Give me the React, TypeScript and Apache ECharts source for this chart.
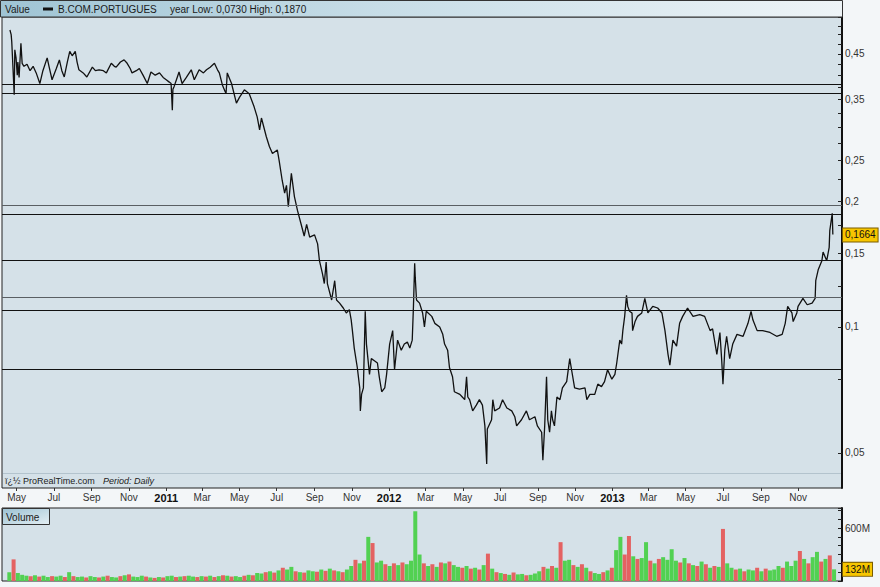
import React, { useEffect, useRef } from 'react';
import * as echarts from 'echarts';

// ---------- data ----------
const priceDates: string[] = [
  // Apr-May 2010
  '2010-04-20','2010-04-22','2010-04-23','2010-04-27','2010-04-28','2010-04-30','2010-05-02','2010-05-03','2010-05-05','2010-05-08','2010-05-10','2010-05-13','2010-05-18','2010-05-23','2010-05-28',
  // Jun-Jul 2010
  '2010-06-02','2010-06-08','2010-06-13','2010-06-20','2010-06-23','2010-06-28','2010-07-05','2010-07-10','2010-07-14','2010-07-18','2010-07-23','2010-07-27','2010-07-31',
  // Aug-Oct 2010
  '2010-08-05','2010-08-08','2010-08-11','2010-08-18','2010-08-24','2010-09-02','2010-09-07','2010-09-13','2010-09-20','2010-09-25','2010-10-03','2010-10-08','2010-10-11','2010-10-18','2010-10-24','2010-10-29',
  // Nov 2010-Jan 2011
  '2010-11-03','2010-11-06','2010-11-13','2010-11-18','2010-11-24','2010-12-01','2010-12-07','2010-12-14','2010-12-21','2010-12-27','2011-01-01','2011-01-06','2011-01-09','2011-01-11','2011-01-12','2011-01-14','2011-01-19','2011-01-22','2011-01-27',
  // Feb-Apr 2011
  '2011-02-03','2011-02-11','2011-02-16','2011-02-24','2011-03-03','2011-03-08','2011-03-14','2011-03-21','2011-03-26','2011-03-29','2011-04-03','2011-04-09','2011-04-11','2011-04-18','2011-04-26',
  // May-Jul 2011
  '2011-05-01','2011-05-09','2011-05-17','2011-05-25','2011-05-30','2011-06-03','2011-06-06','2011-06-14','2011-06-19','2011-06-24','2011-07-02','2011-07-05','2011-07-10','2011-07-14','2011-07-17','2011-07-20','2011-07-25','2011-07-30',
  // Aug-Oct 2011
  '2011-08-04','2011-08-10','2011-08-15','2011-08-19','2011-08-24','2011-09-01','2011-09-06','2011-09-09','2011-09-14','2011-09-17','2011-09-20','2011-09-22','2011-09-29','2011-10-04','2011-10-07','2011-10-12','2011-10-18','2011-10-23','2011-10-28','2011-10-31',
  // Nov-Dec 2011
  '2011-11-02','2011-11-05','2011-11-10','2011-11-14','2011-11-15','2011-11-17','2011-11-20','2011-11-23','2011-11-25','2011-11-30','2011-12-03','2011-12-08','2011-12-13','2011-12-16','2011-12-20','2011-12-25','2011-12-28',
  // Jan-Mar 2012
  '2012-01-02','2012-01-07','2012-01-10','2012-01-15','2012-01-21','2012-01-26','2012-01-31','2012-02-04','2012-02-08','2012-02-10','2012-02-12','2012-02-13','2012-02-15','2012-02-20','2012-02-25','2012-02-28','2012-03-02','2012-03-11','2012-03-16','2012-03-24','2012-03-29',
  // Apr-Jun 2012
  '2012-04-01','2012-04-06','2012-04-09','2012-04-14','2012-04-17','2012-04-26','2012-04-30','2012-05-04','2012-05-07','2012-05-09','2012-05-12','2012-05-17','2012-05-23','2012-05-28','2012-06-02','2012-06-06','2012-06-09','2012-06-10','2012-06-17','2012-06-19','2012-06-22','2012-06-30',
  // Jul-Sep 2012
  '2012-07-05','2012-07-12','2012-07-20','2012-07-25','2012-07-28','2012-08-05','2012-08-13','2012-08-18','2012-08-27','2012-08-31','2012-09-07','2012-09-09','2012-09-12','2012-09-15','2012-09-17','2012-09-20','2012-09-23','2012-09-25','2012-09-28',
  // Oct-Dec 2012
  '2012-10-02','2012-10-07','2012-10-11','2012-10-18','2012-10-23','2012-10-26','2012-10-31','2012-11-08','2012-11-17','2012-11-20','2012-11-25','2012-12-03','2012-12-08','2012-12-14','2012-12-19','2012-12-24','2012-12-31',
  // Jan-Mar 2013
  '2013-01-05','2013-01-08','2013-01-13','2013-01-16','2013-01-18','2013-01-21','2013-01-24','2013-01-26','2013-01-29','2013-02-02','2013-02-03','2013-02-07','2013-02-11','2013-02-18','2013-02-23','2013-02-28','2013-03-08','2013-03-16','2013-03-23','2013-03-28',
  // Apr-Jun 2013
  '2013-04-02','2013-04-05','2013-04-10','2013-04-16','2013-04-21','2013-04-26','2013-05-04','2013-05-13','2013-05-24','2013-06-01','2013-06-10','2013-06-14','2013-06-21','2013-06-26','2013-06-29',
  // Jul-Sep 2013
  '2013-07-01','2013-07-04','2013-07-07','2013-07-12','2013-07-17','2013-07-24','2013-08-03','2013-08-11','2013-08-16','2013-08-19','2013-08-26','2013-09-04','2013-09-16','2013-09-27',
  // Oct-Dec 2013
  '2013-10-06','2013-10-11','2013-10-15','2013-10-22','2013-10-24','2013-10-30','2013-11-01','2013-11-09','2013-11-16','2013-11-24','2013-11-29','2013-11-30','2013-12-04','2013-12-10','2013-12-12','2013-12-18','2013-12-22','2013-12-23','2013-12-27','2013-12-28',
];

const priceValues: number[] = [
  0.513,0.50,0.48,0.359,0.46,0.44,0.40,0.43,0.395,0.477,0.427,0.42,0.425,0.41,0.42,
  0.405,0.382,0.41,0.44,0.42,0.39,0.415,0.435,0.41,0.396,0.43,0.456,0.445,
  0.456,0.43,0.412,0.405,0.396,0.418,0.41,0.412,0.41,0.405,0.427,0.42,0.418,0.43,0.435,0.427,
  0.415,0.405,0.41,0.415,0.40,0.382,0.407,0.40,0.405,0.395,0.39,0.385,0.382,0.33,0.37,0.376,0.395,0.407,0.382,
  0.395,0.412,0.39,0.412,0.405,0.412,0.418,0.427,0.412,0.405,0.379,0.361,0.405,0.382,0.343,
  0.354,0.369,0.361,0.336,0.318,0.296,0.316,0.285,0.27,0.26,0.265,0.25,0.224,0.209,0.218,0.194,0.233,0.205,
  0.19,0.176,0.165,0.176,0.164,0.166,0.158,0.144,0.134,0.127,0.143,0.127,0.116,0.129,0.116,0.114,0.111,0.108,0.11,0.104,
  0.098,0.089,0.080,0.0715,0.063,0.069,0.0715,0.109,0.091,0.077,0.084,0.083,0.082,0.076,0.070,0.0715,0.077,
  0.091,0.098,0.079,0.093,0.088,0.091,0.092,0.089,0.093,0.112,0.142,0.131,0.116,0.114,0.108,0.10,0.109,0.106,0.102,0.10,0.096,
  0.091,0.088,0.080,0.076,0.070,0.069,0.068,0.067,0.076,0.068,0.067,0.063,0.065,0.067,0.065,0.058,0.047,0.057,0.060,0.067,0.063,0.064,
  0.067,0.064,0.063,0.061,0.058,0.060,0.063,0.060,0.061,0.058,0.056,0.048,0.058,0.076,0.060,0.056,0.063,0.060,0.058,
  0.068,0.067,0.0715,0.074,0.084,0.079,0.0715,0.071,0.0715,0.067,0.069,0.069,0.073,0.072,0.074,0.079,0.075,
  0.077,0.082,0.093,0.091,0.098,0.106,0.119,0.112,0.109,0.108,0.098,0.103,0.106,0.108,0.117,0.108,0.112,0.111,0.108,0.098,
  0.086,0.081,0.093,0.090,0.102,0.106,0.111,0.106,0.107,0.106,0.098,0.099,0.086,0.097,0.083,
  0.073,0.088,0.095,0.084,0.091,0.096,0.095,0.102,0.109,0.104,0.098,0.098,0.097,0.095,
  0.096,0.102,0.112,0.108,0.103,0.108,0.112,0.117,0.113,0.114,0.117,0.129,0.137,0.144,0.151,0.144,0.155,0.170,0.187,0.1664,
];

// horizontal support / resistance levels
const levels: number[] = [0.377, 0.359, 0.1954, 0.188, 0.1435, 0.1173, 0.1093, 0.0799];
const grayLevels: number[] = [0.1954, 0.1173];

const lastPrice = 0.1664;
const lastVolume = 132; // millions

const yLabelValues: number[] = [0.05, 0.1, 0.15, 0.2, 0.25, 0.35, 0.45];
const yTickValues: number[] = [
  0.05, 0.075, 0.1, 0.125, 0.15, 0.175, 0.2, 0.225, 0.25, 0.275, 0.3, 0.325,
  0.35, 0.375, 0.4, 0.425, 0.45, 0.475, 0.5, 0.525, 0.55,
];

const monthTicks: string[] = [
  '2010-05-01','2010-07-01','2010-09-01','2010-11-01','2011-01-01','2011-03-01','2011-05-01','2011-07-01','2011-09-01','2011-11-01',
  '2012-01-01','2012-03-01','2012-05-01','2012-07-01','2012-09-01','2012-11-01','2013-01-01','2013-03-01','2013-05-01','2013-07-01',
  '2013-09-01','2013-11-01',
];
const monthNames = ['Jan','Feb','Mar','Apr','May','Jun','Jul','Aug','Sep','Oct','Nov','Dec'];

// weekly volume (millions), weeks starting 2010-04-19
const volumeStart = '2010-04-19';
const volumes: number[] = [
  100,245,90,70,60,55,65,50,60,45,
  55,50,60,45,100,55,45,50,40,55,
  45,40,50,60,45,40,55,65,75,50,
  45,60,50,40,35,45,40,55,60,45,
  50,55,60,50,45,55,50,60,45,55,
  65,60,50,55,45,60,70,65,90,85,
  100,110,95,120,150,130,160,110,100,95,
  120,110,105,130,115,140,120,110,100,130,
  170,240,200,230,500,430,210,230,190,170,
  200,180,210,190,230,790,300,200,170,190,
  160,210,200,220,180,160,150,170,140,150,
  130,180,310,140,100,90,80,70,95,75,
  80,65,70,85,110,160,140,170,150,440,
  230,240,180,160,190,150,110,90,80,100,
  120,150,350,500,300,510,280,250,260,440,
  230,200,250,270,240,360,230,210,260,200,
  180,170,220,190,150,170,160,590,200,150,
  130,140,110,130,120,150,110,140,120,130,
  170,150,220,170,230,340,250,200,270,330,
  220,250,290,132,
];
// g = up week, r = down week
const volumeDir =
  'grgggrgrgg' + 'rggrgrggrg' + 'grgrggrgrg' + 'ggrgrgrggr' + 'grggrgrgrg' +
  'rgrggrgrgg' + 'rgrgrggrgr' + 'ggrgrgrgrg' + 'grgrgrggrg' + 'rgrggggrgr' +
  'grgrggrgrg' + 'rgrgrgrgrg' + 'grgggrgrgr' + 'ggrgrgrggr' + 'grggrrgrgg' +
  'rgrggggrgr' + 'grgrgrgrgg' + 'rgrggrgrgg' + 'grgggrgrgg' + 'rgrg';

// ---------- helpers ----------
const FONT = '"Liberation Sans", Arial, Helvetica, sans-serif';
const toTime = (s: string) => {
  const [y, m, d] = s.split('-').map(Number);
  return Date.UTC(y, m - 1, d);
};
const DAY = 86400000;
const xMin = toTime('2010-04-07');
const xMax = toTime('2014-01-12');
const yMin = Math.log10(0.0412);
const yMax = Math.log10(0.551);
const fmtPrice = (v: number) => {
  const p = Math.pow(10, v);
  return p.toFixed(2).replace(/0$/, '').replace('.', ',');
};

const tagLabel = (text: string) => ({
  show: true, position: 'end', distance: 1,
  formatter: text,
  backgroundColor: '#f7c600', borderColor: '#7a5c00', borderWidth: 1,
  padding: [2, 2, 1, 2], color: '#111', fontSize: 10, fontFamily: FONT,
});

export default function App() {
  const ref = useRef<HTMLDivElement>(null);

  useEffect(() => {
    document.body.style.margin = '0';
    const chart = echarts.init(ref.current!, null, { renderer: 'svg' });

    const priceData = priceDates.map((d, i) => [toTime(d), Math.log10(priceValues[i])]);
    const v0 = toTime(volumeStart);
    const volumeData = volumes.map((v, i) => ({
      value: [v0 + i * 7 * DAY, v],
      itemStyle: { color: volumeDir[i] === 'g' ? '#52d152' : '#e46262' },
    }));
    const monthTimes = monthTicks.map(toTime);

    const option: any = {
      animation: false,
      backgroundColor: '#f3f6f8',
      textStyle: { fontFamily: FONT },
      grid: [
        { left: 2, right: 38, top: 17, bottom: 99, show: true, backgroundColor: '#d5e1e8', borderColor: '#222', borderWidth: 1 },
        { left: 2, right: 38, top: 508, bottom: 6, show: true, backgroundColor: '#d5e1e8', borderColor: '#222', borderWidth: 1 },
      ],
      xAxis: [
        {
          type: 'value', gridIndex: 0, min: xMin, max: xMax,
          axisLine: { show: false },
          splitLine: { show: false },
          axisTick: { show: true, customValues: monthTimes, length: 3, lineStyle: { color: '#333' } },
          axisLabel: {
            customValues: monthTimes,
            margin: 4,
            formatter: (v: number) => {
              const d = new Date(v);
              const m = d.getUTCMonth();
              return m === 0 ? `{y|${d.getUTCFullYear()}}` : `{m|${monthNames[m]}}`;
            },
            rich: {
              y: { fontSize: 11, fontWeight: 'bold', color: '#111', fontFamily: FONT },
              m: { fontSize: 10, color: '#333', fontFamily: FONT },
            },
          },
        },
        {
          type: 'value', gridIndex: 1, min: xMin, max: xMax,
          axisLine: { show: false }, axisTick: { show: false }, axisLabel: { show: false }, splitLine: { show: false },
        },
      ],
      yAxis: [
        {
          type: 'value', gridIndex: 0, position: 'right', min: yMin, max: yMax,
          axisLine: { show: true, lineStyle: { color: '#111', width: 2 } },
          axisTick: { show: true, inside: true, length: 4, customValues: yTickValues.map(Math.log10), lineStyle: { color: '#222' } },
          axisLabel: { customValues: yLabelValues.map(Math.log10), formatter: fmtPrice, fontSize: 10, color: '#333', margin: 3 },
          splitLine: { show: false },
        },
        {
          type: 'value', gridIndex: 1, position: 'right', min: 0, max: 827, interval: 100,
          axisLine: { show: true, lineStyle: { color: '#111', width: 2 } },
          axisTick: { show: true, inside: true, length: 4, lineStyle: { color: '#222' } },
          axisLabel: { customValues: [600], formatter: (v: number) => `${v}M`, fontSize: 10, color: '#333', margin: 3 },
          splitLine: { show: false },
        },
      ],
      series: [
        {
          type: 'line', xAxisIndex: 0, yAxisIndex: 0, data: priceData,
          showSymbol: false, symbol: 'none',
          lineStyle: { color: '#111', width: 1.3 },
          z: 3,
          markLine: {
            silent: true, symbol: ['none', 'none'], animation: false,
            label: { show: false },
            data: [
              ...levels.map((v) => ({
                yAxis: Math.log10(v),
                lineStyle: { color: grayLevels.includes(v) ? '#5a5f63' : '#111', width: 1, type: 'solid' },
              })),
            ],
          },
        },
        {
          // last-price tag on the price axis
          type: 'line', xAxisIndex: 0, yAxisIndex: 0, data: [],
          markLine: {
            silent: true, symbol: ['none', 'none'], animation: false,
            data: [{ yAxis: Math.log10(lastPrice), lineStyle: { color: 'rgba(0,0,0,0)', width: 1 }, label: tagLabel(lastPrice.toFixed(4).replace('.', ',')) }],
          },
          z: 6,
        },
        {
          type: 'bar', xAxisIndex: 1, yAxisIndex: 1, data: volumeData,
          barWidth: 4,
          markLine: {
            silent: true, symbol: ['none', 'none'], animation: false,
            data: [{ yAxis: lastVolume, lineStyle: { color: 'rgba(0,0,0,0)', width: 1 }, label: tagLabel(`${lastVolume}M`) }],
          },
        },
      ],
      graphic: [
        {
          type: 'rect', z: 10,
          shape: { x: 0.5, y: 0.5, width: 842, height: 16.5 },
          style: {
            fill: new echarts.graphic.LinearGradient(0, 0, 1, 0, [
              { offset: 0, color: '#9fc4d4' },
              { offset: 0.45, color: '#c7dde7' },
              { offset: 1, color: '#eef4f7' },
            ]),
            stroke: '#333', lineWidth: 1,
          },
        },
        { type: 'text', z: 11, x: 5, y: 9, style: { text: 'Value', fontSize: 10, fill: '#1a1a1a', verticalAlign: 'middle', fontFamily: FONT } },
        { type: 'rect', z: 11, shape: { x: 43, y: 7.5, width: 10, height: 3 }, style: { fill: '#111' } },
        { type: 'text', z: 11, x: 58, y: 9, style: { text: 'B.COM.PORTUGUES', fontSize: 10, fill: '#1a1a1a', verticalAlign: 'middle', fontFamily: FONT } },
        { type: 'text', z: 11, x: 170, y: 9, style: { text: 'year Low: 0,0730 High: 0,1870', fontSize: 10, fill: '#1a1a1a', verticalAlign: 'middle', fontFamily: FONT } },
        { type: 'line', z: 5, shape: { x1: 3, y1: 473.5, x2: 841, y2: 473.5 }, style: { stroke: '#b3c3cd', lineWidth: 1 } },
        { type: 'text', z: 5, x: 5, y: 481, style: { text: 'ï¿½ ProRealTime.com', fontSize: 9, fill: '#222', verticalAlign: 'middle', fontFamily: FONT } },
        { type: 'text', z: 5, x: 103, y: 481, style: { text: 'Period: Daily', fontSize: 9, fontStyle: 'italic', fill: '#222', verticalAlign: 'middle', fontFamily: FONT } },
        {
          type: 'rect', z: 10,
          shape: { x: 2.5, y: 508.5, width: 47, height: 16 },
          style: {
            fill: new echarts.graphic.LinearGradient(0, 0, 1, 1, [
              { offset: 0, color: '#9cc2d3' },
              { offset: 1, color: '#e3eef3' },
            ]),
            stroke: '#333', lineWidth: 1,
          },
        },
        { type: 'text', z: 11, x: 6, y: 517, style: { text: 'Volume', fontSize: 10, fill: '#1a1a1a', verticalAlign: 'middle', fontFamily: FONT } },
      ],
    };

    chart.setOption(option);
    return () => chart.dispose();
  }, []);

  return <div ref={ref} style={{ width: 880, height: 587 }} />;
}
